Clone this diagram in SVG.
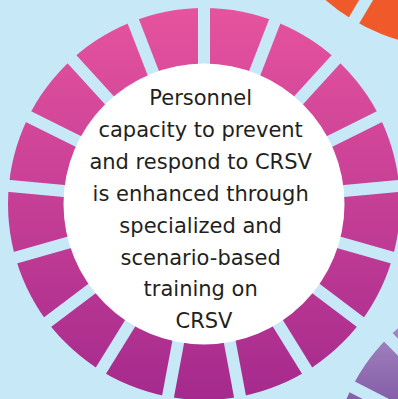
<svg xmlns="http://www.w3.org/2000/svg" width="398" height="399" viewBox="0 0 398 399">
  <defs>
    <linearGradient id="pinkGrad" gradientUnits="userSpaceOnUse" x1="0" y1="8" x2="0" y2="400">
      <stop offset="0" stop-color="#e6539e"/>
      <stop offset="1" stop-color="#a52a8d"/>
    </linearGradient>
    <linearGradient id="purpleGrad" gradientUnits="userSpaceOnUse" x1="0" y1="320" x2="0" y2="400">
      <stop offset="0" stop-color="#a68ac2"/>
      <stop offset="1" stop-color="#855ea8"/>
    </linearGradient>
    <style>
      .gap { stroke: #c7e8f7; stroke-width: 12; }
      .label { font-family: "DejaVu Sans", sans-serif; font-size: 21px; fill: #231f20; text-anchor: middle; }
    </style>
  </defs>
  <rect x="0" y="0" width="398" height="399" fill="#c7e8f7"/>

  <g id="orange-ring">
    <circle cx="454" cy="-148" r="168" fill="none" stroke="#f05a2b" stroke-width="56"/>
    <line class="gap" x1="454" y1="-148" x2="346.9" y2="32.4"/>
  </g>

  <g id="purple-ring">
    <circle cx="525" cy="475" r="166" fill="none" stroke="url(#purpleGrad)" stroke-width="56"/>
    <g transform="translate(525 475)">
      <line class="gap" x1="0" y1="0" x2="200" y2="0" transform="rotate(207)"/>
      <line class="gap" x1="0" y1="0" x2="200" y2="0" transform="rotate(225.2)"/>
    </g>
  </g>

  <g id="pink-ring">
    <circle cx="204" cy="204" r="196" fill="url(#pinkGrad)"/>
    <g transform="translate(204 204)">
      <line class="gap" x1="0" y1="0" x2="200" y2="0" transform="rotate(-90)"/>
      <line class="gap" x1="0" y1="0" x2="200" y2="0" transform="rotate(-68.824)"/>
      <line class="gap" x1="0" y1="0" x2="200" y2="0" transform="rotate(-47.647)"/>
      <line class="gap" x1="0" y1="0" x2="200" y2="0" transform="rotate(-26.471)"/>
      <line class="gap" x1="0" y1="0" x2="200" y2="0" transform="rotate(-5.294)"/>
      <line class="gap" x1="0" y1="0" x2="200" y2="0" transform="rotate(15.882)"/>
      <line class="gap" x1="0" y1="0" x2="200" y2="0" transform="rotate(37.059)"/>
      <line class="gap" x1="0" y1="0" x2="200" y2="0" transform="rotate(58.235)"/>
      <line class="gap" x1="0" y1="0" x2="200" y2="0" transform="rotate(79.412)"/>
      <line class="gap" x1="0" y1="0" x2="200" y2="0" transform="rotate(100.588)"/>
      <line class="gap" x1="0" y1="0" x2="200" y2="0" transform="rotate(121.765)"/>
      <line class="gap" x1="0" y1="0" x2="200" y2="0" transform="rotate(142.941)"/>
      <line class="gap" x1="0" y1="0" x2="200" y2="0" transform="rotate(164.118)"/>
      <line class="gap" x1="0" y1="0" x2="200" y2="0" transform="rotate(185.294)"/>
      <line class="gap" x1="0" y1="0" x2="200" y2="0" transform="rotate(206.471)"/>
      <line class="gap" x1="0" y1="0" x2="200" y2="0" transform="rotate(227.647)"/>
      <line class="gap" x1="0" y1="0" x2="200" y2="0" transform="rotate(248.824)"/>
    </g>
  </g>

  <g id="center-node">
    <circle cx="204" cy="204" r="140.5" fill="#ffffff"/>
    <text class="label">
      <tspan x="204" y="105">Personnel</tspan>
      <tspan x="204" y="136.9">capacity to prevent</tspan>
      <tspan x="204" y="168.8">and respond to CRSV</tspan>
      <tspan x="204" y="200.7">is enhanced through</tspan>
      <tspan x="204" y="232.6">specialized and</tspan>
      <tspan x="204" y="264.5">scenario-based</tspan>
      <tspan x="204" y="296.4">training on</tspan>
      <tspan x="204" y="328.3">CRSV</tspan>
    </text>
  </g>
</svg>
